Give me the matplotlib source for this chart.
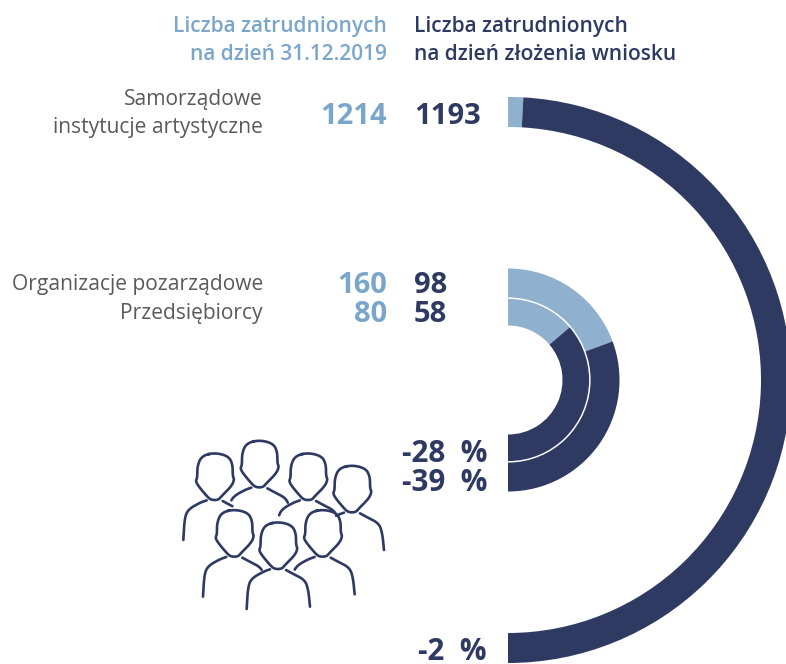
"""Zatrudnienie: half-ring comparison of headcount, 31.12.2019 vs application date."""
import matplotlib
matplotlib.use('Agg')
import matplotlib.pyplot as plt
from matplotlib.patches import Wedge
import numpy as np

# Data
CATEGORIES = ['Samorządowe\ninstytucje artystyczne', 'Organizacje pozarządowe', 'Przedsiębiorcy']
EMPLOYED_2019 = [1214, 160, 80]
EMPLOYED_APPLICATION = [1193, 98, 58]
CHANGE_LABELS = ['-2 %', '-39 %', '-28 %']
HEADER_2019 = 'Liczba zatrudnionych\nna dzień 31.12.2019'
HEADER_APPLICATION = 'Liczba zatrudnionych\nna dzień złożenia wniosku'

LIGHT = '#8FB0CE'
LIGHT_TEXT = '#7BA6CB'
DARK = '#2F3A62'
GRAY = '#5A5A5C'

plt.rcParams['font.family'] = ['Open Sans', 'DejaVu Sans']

fig = plt.figure(figsize=(7.86, 6.64), dpi=100)
ax = fig.add_axes([0, 0, 1, 1])
ax.set_xlim(0, 786)
ax.set_ylim(664, 0)  # pixel coordinates, y down
ax.axis('off')

CENTER = (508, 380)
RINGS = [(283, 30), (111.5, 30), (82, 27.5)]


def draw_ring(before, after, outer, width):
    # light part from the top, its sweep is the share lost on the half circle
    split = -90 + 180 * (1 - after / before)
    ax.add_patch(Wedge(CENTER, outer, -90, split, width=width, color=LIGHT, lw=0))
    ax.add_patch(Wedge(CENTER, outer, split, 90, width=width, color=DARK, lw=0))


for b, a, (outer, width) in zip(EMPLOYED_2019, EMPLOYED_APPLICATION, RINGS):
    draw_ring(b, a, outer, width)
# white line between the two inner rings
ax.add_patch(Wedge(CENTER, 82.6, -90, 90, width=1.5, color='white', lw=0))

# Headers
ax.text(387, 40.5, HEADER_2019, color=LIGHT_TEXT, fontsize=15, fontweight='semibold',
        ha='right', va='center', linespacing=1.45, multialignment='right')
ax.text(414, 40.5, HEADER_APPLICATION, color=DARK, fontsize=15, fontweight='semibold',
        ha='left', va='center', linespacing=1.45, multialignment='left')

# Category labels and values
CAT_Y = [113.5, 284.5, 313.5]
VALUE_BASE = [123.5, 293, 322]
for cat, cy, vy, b, a in zip(CATEGORIES, CAT_Y, VALUE_BASE, EMPLOYED_2019, EMPLOYED_APPLICATION):
    ax.text(263, cy, cat, color=GRAY, fontsize=15.1, ha='right', va='center',
            linespacing=1.45, multialignment='right')
    ax.text(387, vy, str(b), color=LIGHT_TEXT, fontsize=21, fontweight='bold', ha='right', va='baseline')
    ax.text(414, vy, str(a), color=DARK, fontsize=21, fontweight='bold', ha='left', va='baseline')

for label, y in zip(CHANGE_LABELS, [660, 491, 461.5]):
    ax.text(487, y, label.replace(' ', '  '), color=DARK, fontsize=21.3, fontweight='bold',
            ha='right', va='baseline')


# People icon
def chaikin(pts, n=3):
    pts = np.asarray(pts, float)
    closed = np.allclose(pts[0], pts[-1])
    for _ in range(n):
        q = 0.75 * pts[:-1] + 0.25 * pts[1:]
        r = 0.25 * pts[:-1] + 0.75 * pts[1:]
        new = np.empty((2 * len(q), 2))
        new[0::2] = q
        new[1::2] = r
        if closed:
            new = np.vstack([new, new[0]])
        else:
            new = np.vstack([pts[0], new, pts[-1]])
        pts = new
    return pts


HEAD = [(0, 0), (-38, 10), (-51, 40), (-51, 75), (-56, 85), (-48, 100), (-23, 130), (-10, 142),
        (12, 142), (22, 130), (52, 100), (60, 80), (55, 70), (55, 35), (42, 10), (0, 0)]
SHOULDER_L = [(-23, 143), (-43, 150), (-78, 170), (-89, 195), (-93, 262)]
SHOULDER_R = [(25, 145), (47, 157), (82, 175), (92, 205), (97, 255)]
# head x, head top y in zoomed icon units; y cut of left and right shoulder
PEOPLE = [(267, 30, 183, 190), (133, 68, 400, 162), (413, 68, 190, 182), (545, 105, 153, 400),
          (192, 238, 400, 182), (323, 275, 400, 400), (457, 238, 182, 400)]


def icon_line(pts, hx, hy):
    pts = np.asarray(pts)
    return 170 + (pts[:, 0] + hx) / 3, 430 + (pts[:, 1] + hy) / 3


for hx, hy, cut_l, cut_r in PEOPLE:
    head = chaikin(HEAD)
    ax.plot(*icon_line(head, hx, hy), color=DARK, lw=1.9)
    for shoulder, cut in ((SHOULDER_L, cut_l), (SHOULDER_R, cut_r)):
        s = chaikin(shoulder)
        s = s[s[:, 1] <= cut]
        ax.plot(*icon_line(s, hx, hy), color=DARK, lw=1.9, solid_capstyle='round')

fig.savefig('out.png', dpi=100)
